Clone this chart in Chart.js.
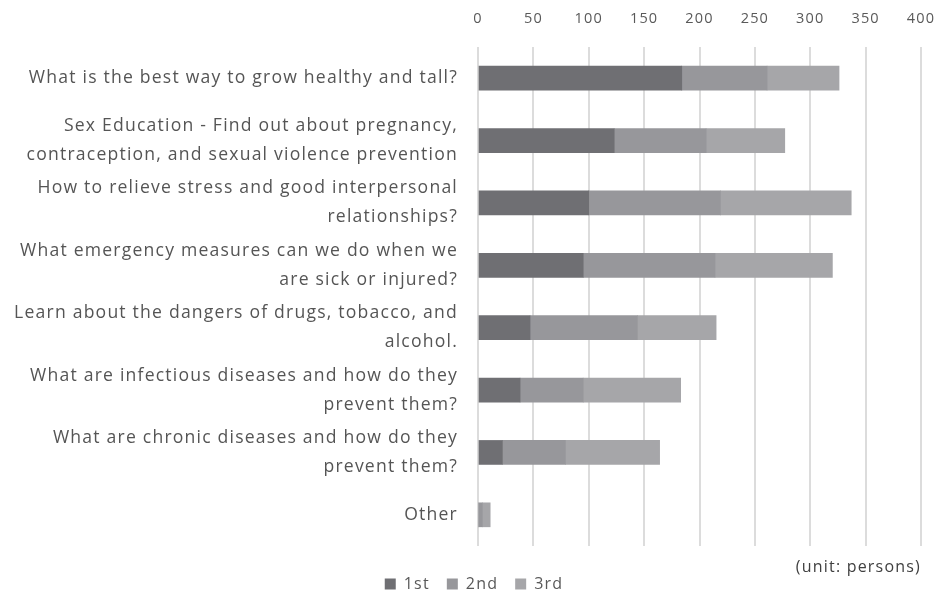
<!DOCTYPE html>
<html>
<head>
<meta charset="utf-8">
<script src="https://cdn.jsdelivr.net/npm/chart.js@4"></script>
<style>
  html, body { margin: 0; padding: 0; background: #fff; }
  #wrap { width: 940px; height: 599px; }
</style>
</head>
<body>
<div id="wrap"><canvas id="myChart"></canvas></div>
<script>
const categories = [
  'What is the best way to grow healthy and tall?',
  ['Sex Education - Find out about pregnancy,', 'contraception, and sexual violence prevention'],
  ['How to relieve stress and good interpersonal', 'relationships?'],
  ['What emergency measures can we do when we', 'are sick or injured?'],
  ['Learn about the dangers of drugs, tobacco, and', 'alcohol.'],
  ['What are infectious diseases and how do they', 'prevent them?'],
  ['What are chronic diseases and how do they', 'prevent them?'],
  'Other'
];
const first  = [184, 123, 100, 95, 47, 38, 22, 0];
const second = [77, 83, 119, 119, 97, 57, 57, 4];
const third  = [65, 71, 118, 106, 71, 88, 85, 7];
const seriesNames = ['1st', '2nd', '3rd'];
const xTicks = [0, 50, 100, 150, 200, 250, 300, 350, 400];
const unitText = '(unit: persons)';

const font = "'Open Sans', sans-serif";

// the original text is set a bit loose, so widen the letter spacing
const spacing = {
  id: 'spacing',
  beforeUpdate(chart) { chart.ctx.letterSpacing = '1.2px'; },
  beforeDraw(chart) { chart.ctx.letterSpacing = '1.2px'; }
};

const ctx = document.getElementById('myChart');
new Chart(ctx, {
  type: 'bar',
  data: {
    labels: categories,
    datasets: [
      { label: seriesNames[0], data: first, backgroundColor: '#6f6f73' },
      { label: seriesNames[1], data: second, backgroundColor: '#97979b' },
      { label: seriesNames[2], data: third, backgroundColor: '#a6a6a9' }
    ]
  },
  options: {
    indexAxis: 'y',
    responsive: true,
    maintainAspectRatio: false,
    animation: false,
    layout: { padding: { left: 8, right: 0, top: 0, bottom: -3 } },
    datasets: { bar: { barThickness: 24 } },
    scales: {
      x: {
        position: 'top',
        stacked: true,
        min: 0,
        max: 400,
        afterBuildTicks: axis => { axis.ticks = xTicks.map(v => ({ value: v })); },
        afterFit: axis => { axis.paddingRight = 19; axis.height = 47; },
        grid: { color: '#dcdcdc', lineWidth: 2, drawTicks: false },
        border: { display: false },
        ticks: { color: '#595959', font: { family: font, size: 14.5 }, padding: 19 }
      },
      y: {
        stacked: true,
        afterFit: axis => { axis.width = 470; },
        grid: { display: false, drawTicks: false },
        border: { display: false },
        ticks: { color: '#555555', font: { family: font, size: 17.6, lineHeight: 1.65 }, padding: 20 }
      }
    },
    plugins: {
      subtitle: {
        display: true,
        text: unitText,
        position: 'bottom',
        align: 'end',
        fullSize: false,
        weight: 500,
        color: '#404040',
        font: { family: font, size: 16, weight: 'normal', lineHeight: '13px' },
        padding: { top: 15, bottom: -15 }
      },
      legend: {
        position: 'bottom',
        labels: {
          color: '#595959',
          font: { family: font, size: 16 },
          boxWidth: 11,
          boxHeight: 11,
          padding: 17
        }
      },
      tooltip: { enabled: false }
    }
  },
  plugins: [spacing]
});
</script>
</body>
</html>
